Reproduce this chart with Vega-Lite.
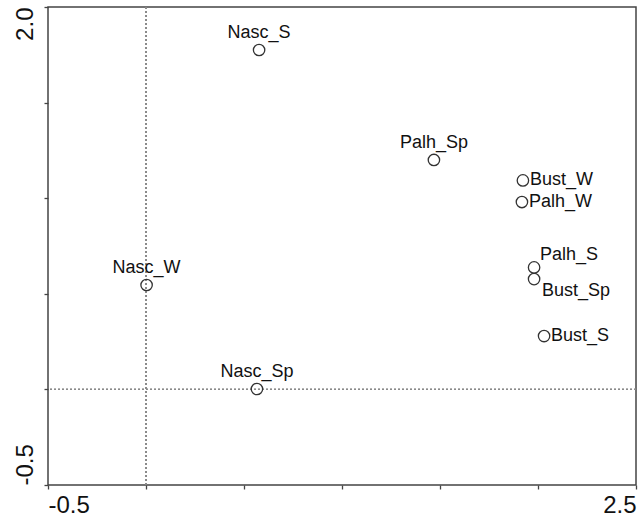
{
  "$schema": "https://vega.github.io/schema/vega-lite/v6.json",
  "autosize": {"type": "none"},
  "width": 588,
  "height": 478,
  "padding": {"left": 48, "top": 7, "right": 3, "bottom": 34},
  "background": "white",
  "config": {
    "view": {"stroke": "#444444", "strokeWidth": 1.5},
    "font": "Liberation Sans",
    "axis": {
      "grid": false,
      "domain": false,
      "ticks": true,
      "tickColor": "#444444",
      "tickWidth": 1.3,
      "tickSize": 4,
      "labelFont": "Liberation Sans",
      "labelFontSize": 24,
      "labelColor": "#111111",
      "labelOverlap": false,
      "title": null
    }
  },
  "data": {
    "values": [
      {"site": "Nasc_S", "axis1": 0.577, "axis2": 1.775},
      {"site": "Palh_Sp", "axis1": 1.469, "axis2": 1.2},
      {"site": "Bust_W", "axis1": 1.923, "axis2": 1.093},
      {"site": "Palh_W", "axis1": 1.918, "axis2": 0.98},
      {"site": "Palh_S", "axis1": 1.98, "axis2": 0.638},
      {"site": "Bust_Sp", "axis1": 1.98, "axis2": 0.577},
      {"site": "Bust_S", "axis1": 2.031, "axis2": 0.279},
      {"site": "Nasc_W", "axis1": 0.003, "axis2": 0.546},
      {"site": "Nasc_Sp", "axis1": 0.566, "axis2": 0.002}
    ]
  },
  "encoding": {
    "x": {
      "field": "axis1",
      "type": "quantitative",
      "scale": {"domain": [-0.5, 2.5], "nice": false, "zero": false},
      "axis": {
        "values": [-0.5, 0, 0.5, 1, 1.5, 2, 2.5],
        "labelExpr": "datum.value == -0.5 ? '-0.5' : (datum.value == 2.5 ? '2.5' : '')",
        "labelFlush": true,
        "labelPadding": 4,
        "labelBaseline": "top"
      }
    },
    "y": {
      "field": "axis2",
      "type": "quantitative",
      "scale": {"domain": [-0.5, 2.0], "nice": false, "zero": false},
      "axis": {
        "values": [-0.5, 0, 0.5, 1, 1.5, 2],
        "labelExpr": "datum.value == -0.5 ? '-0.5' : (datum.value == 2 ? '2.0' : '')",
        "labelAngle": -90,
        "labelAlign": {"condition": {"test": "datum.value == 2", "value": "right"}, "value": "left"},
        "labelBaseline": "bottom",
        "labelPadding": 7
      }
    }
  },
  "layer": [
    {
      "mark": {"type": "rule", "color": "#8a8a8a", "strokeDash": [2, 2], "strokeWidth": 1},
      "encoding": {"x": {"datum": 0, "type": "quantitative"}, "y": null}
    },
    {
      "mark": {"type": "rule", "color": "#8a8a8a", "strokeDash": [2, 2], "strokeWidth": 1},
      "encoding": {"y": {"datum": 0, "type": "quantitative"}, "x": null}
    },
    {
      "mark": {"type": "point", "shape": "circle", "filled": false, "size": 130, "stroke": "#333333", "strokeWidth": 1.3, "opacity": 1}
    },
    {
      "transform": [{"filter": {"field": "site", "oneOf": ["Nasc_S", "Palh_Sp", "Nasc_W", "Nasc_Sp"]}}],
      "mark": {"type": "text", "align": "center", "baseline": "middle", "dy": -17, "fontSize": 18, "color": "#111111"},
      "encoding": {"text": {"field": "site"}}
    },
    {
      "transform": [{"filter": {"field": "site", "oneOf": ["Bust_W", "Palh_W", "Bust_S"]}}],
      "mark": {"type": "text", "align": "left", "baseline": "middle", "dx": 7, "dy": 0, "fontSize": 18, "color": "#111111"},
      "encoding": {"text": {"field": "site"}}
    },
    {
      "transform": [{"filter": {"field": "site", "equal": "Palh_S"}}],
      "mark": {"type": "text", "align": "left", "baseline": "middle", "dx": 6, "dy": -12, "fontSize": 18, "color": "#111111"},
      "encoding": {"text": {"field": "site"}}
    },
    {
      "transform": [{"filter": {"field": "site", "equal": "Bust_Sp"}}],
      "mark": {"type": "text", "align": "left", "baseline": "middle", "dx": 8, "dy": 12, "fontSize": 18, "color": "#111111"},
      "encoding": {"text": {"field": "site"}}
    }
  ]
}
